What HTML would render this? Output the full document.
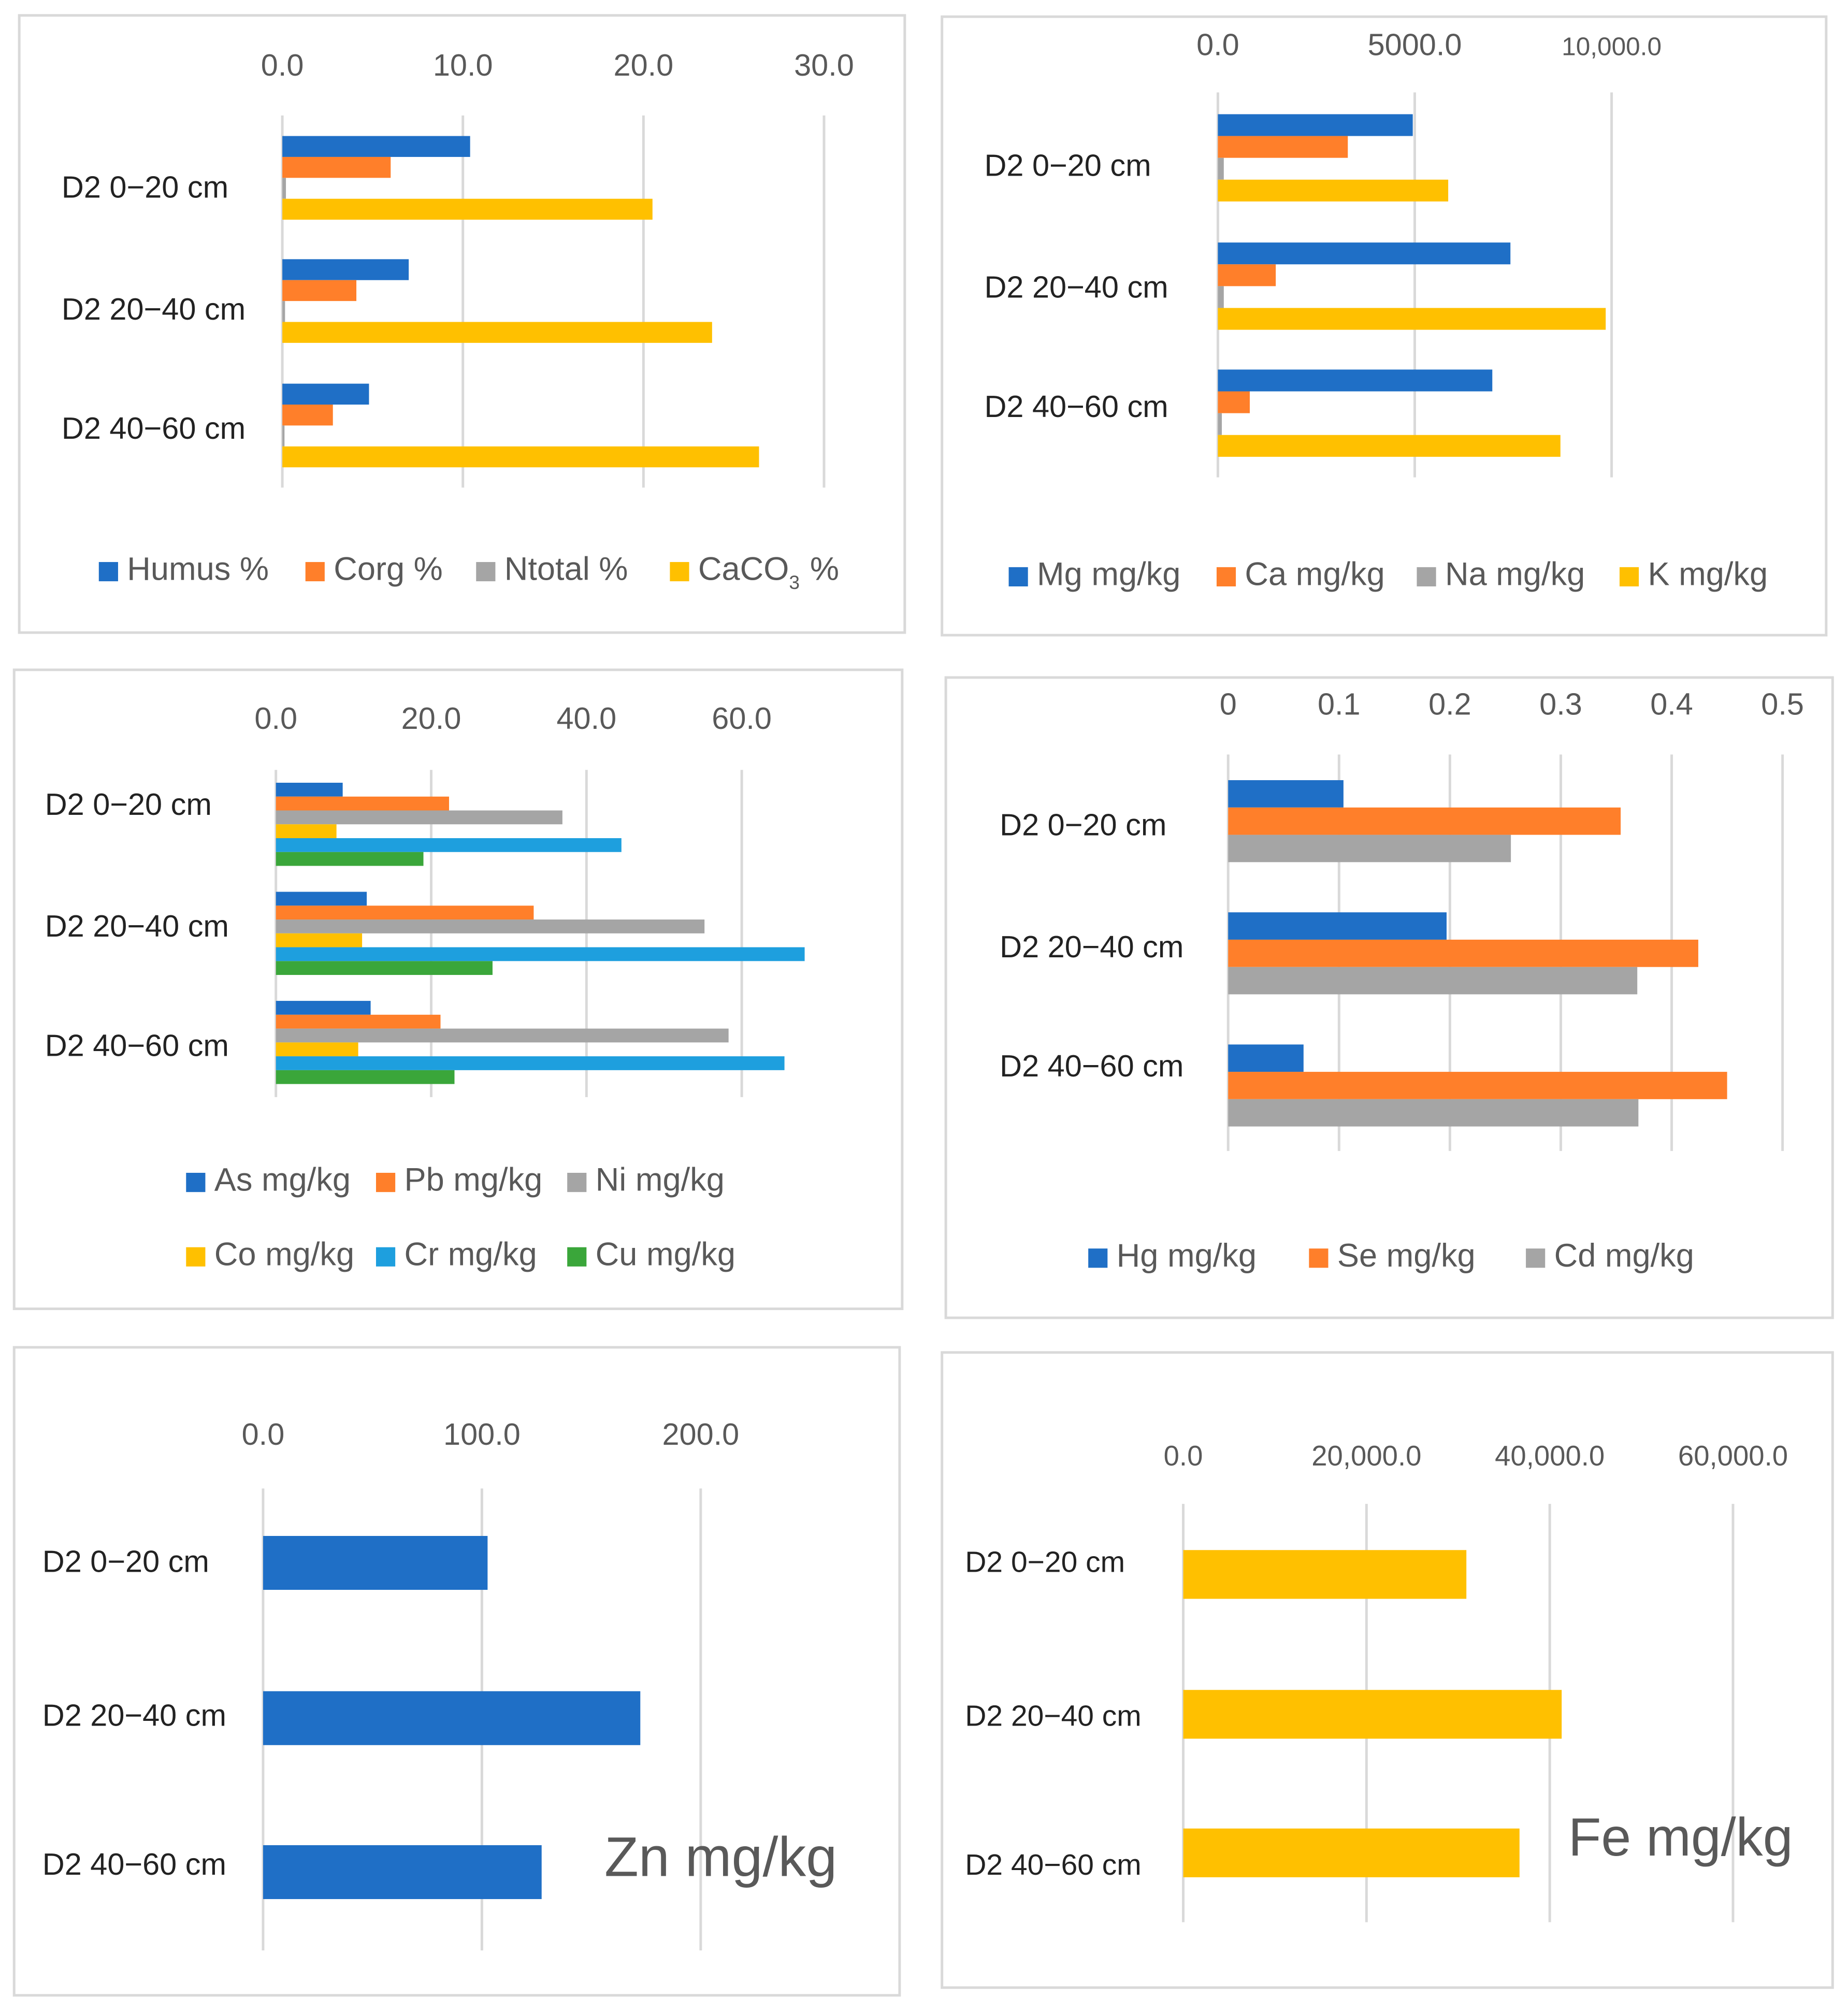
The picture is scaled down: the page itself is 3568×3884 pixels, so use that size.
<!DOCTYPE html>
<html><head><meta charset="utf-8"><style>
html,body{margin:0;padding:0;background:#fff;}
svg{display:block;}
text{font-family:"Liberation Sans",sans-serif;}
</style></head><body>
<svg id="root" width="3568" height="3884" viewBox="0 0 1440 1568" preserveAspectRatio="none"></svg>
<script>
const categories = ['D2 0\u221220 cm','D2 20\u221240 cm','D2 40\u221260 cm'];

// Chart 1
const c1Series = ['Humus %','Corg %','Ntotal %','CaCO3 %'];
const c1Ticks = [0,10,20,30];
const c1TickLabels = ['0.0','10.0','20.0','30.0'];
const c1Humus = [10.4,7.0,4.8];
const c1Corg = [6.0,4.1,2.8];
const c1Ntotal = [0.2,0.15,0.12];
const c1CaCO3 = [20.5,23.8,26.4];

// Chart 2
const c2Series = ['Mg mg/kg','Ca mg/kg','Na mg/kg','K mg/kg'];
const c2Ticks = [0,5000,10000];
const c2TickLabels = ['0.0','5000.0','10,000.0'];
const c2Mg = [4950,7430,6970];
const c2Ca = [3300,1470,810];
const c2Na = [150,150,100];
const c2K = [5850,9850,8700];

// Chart 3
const c3Series = ['As mg/kg','Pb mg/kg','Ni mg/kg','Co mg/kg','Cr mg/kg','Cu mg/kg'];
const c3Ticks = [0,20,40,60];
const c3TickLabels = ['0.0','20.0','40.0','60.0'];
const c3As = [8.6,11.7,12.2];
const c3Pb = [22.3,33.2,21.2];
const c3Ni = [36.9,55.2,58.3];
const c3Co = [7.8,11.1,10.6];
const c3Cr = [44.5,68.1,65.5];
const c3Cu = [19.0,27.9,23.0];

// Chart 4
const c4Series = ['Hg mg/kg','Se mg/kg','Cd mg/kg'];
const c4Ticks = [0,0.1,0.2,0.3,0.4,0.5];
const c4TickLabels = ['0','0.1','0.2','0.3','0.4','0.5'];
const c4Hg = [0.104,0.197,0.068];
const c4Se = [0.354,0.424,0.450];
const c4Cd = [0.255,0.369,0.370];

// Chart 5
const c5Ticks = [0,100,200];
const c5TickLabels = ['0.0','100.0','200.0'];
const c5Zn = [102.6,172.4,127.3];

// Chart 6
const c6Ticks = [0,20000,40000,60000];
const c6TickLabels = ['0.0','20,000.0','40,000.0','60,000.0'];
const c6Fe = [30900,41300,36700];

const BLUE='#1f6fc6', ORANGE='#ff7f2a', GRAY='#a5a5a5', YELLOW='#ffc000', LBLUE='#1e9fde', GREEN='#3aa63a';
const NS='http://www.w3.org/2000/svg';
const root=document.getElementById('root');
function mk(tag,attrs,parent){const e=document.createElementNS(NS,tag);for(const k in attrs)e.setAttribute(k,attrs[k]);(parent||root).appendChild(e);return e;}

function drawChart(cfg){
  const g=mk('g',{});
  
  
  const box=mk('rect',{x:cfg.box[0],y:cfg.box[1],width:cfg.box[2]-cfg.box[0],height:cfg.box[3]-cfg.box[1],fill:'#fff',stroke:'#d9d9d9','stroke-width':2},g);
  
  
  const xs=v=>cfg.x0+v*cfg.k;
  cfg.ticks.forEach((t,i)=>{
    const ln=mk('line',{x1:xs(t),x2:xs(t),y1:cfg.gridTop,y2:cfg.gridBottom,stroke:'#d9d9d9','stroke-width':2},g);
    
    
    const tx=mk('text',{x:xs(t),y:cfg.tickY,'text-anchor':'middle','font-size':cfg.tickSize||24,fill:'#595959'},g);
    tx.textContent=cfg.tickLabels[i];
    if(cfg.serifLast&&i===cfg.ticks.length-1){tx.setAttribute('font-family','"Liberation Serif",serif');tx.setAttribute('font-size',20);}
    
    
  });
  categories.forEach((c,ci)=>{
    const t=mk('text',{x:cfg.labelX,y:cfg.labelYs[ci],'font-size':cfg.catSize||24,fill:'#222'},g);
    t.textContent=c;
    
    
    cfg.series.forEach((s,si)=>{
      const v=s.values[ci];
      const r=mk('rect',{x:xs(0),y:cfg.groupTops[ci]+si*cfg.barH,width:Math.max(0.8,xs(v)-xs(0)),height:cfg.barH,fill:s.color},g);
      
      
    });
  });
  (cfg.legend||[]).forEach(L=>{
    const sq=mk('rect',{x:L.x,y:L.y-14,width:15,height:15,fill:L.color},g);
    
    
    const t=mk('text',{x:L.x+22,y:L.y,'font-size':25.5,fill:'#595959'},g);
    if(L.label==='CaCO3 %'){
      t.appendChild(document.createTextNode('CaCO'));
      const sub=mk('tspan',{dy:7,'font-size':15},t);sub.textContent='3';
      const rest=mk('tspan',{dy:-7,dx:8},t);rest.textContent='%';
    } else t.textContent=L.label;
    
    
  });
  if(cfg.bigTitle){
    const t=mk('text',{x:cfg.bigTitle.x,y:cfg.bigTitle.y,'font-size':cfg.bigTitle.size,fill:'#595959'},g);
    t.textContent=cfg.bigTitle.text;
    
    
  }
}

drawChart({name:'chart-humus-corg',box:[15,12,705,493],x0:220,k:14.07,ticks:c1Ticks,tickLabels:c1TickLabels,tickY:59,gridTop:90,gridBottom:380,
  labelX:48,labelYs:[154,249,342],groupTops:[106,202,299],barH:16.3,
  series:[{values:c1Humus,color:BLUE},{values:c1Corg,color:ORANGE},{values:c1Ntotal,color:GRAY},{values:c1CaCO3,color:YELLOW}],
  legend:[{x:77,y:452,color:BLUE,label:c1Series[0]},{x:238,y:452,color:ORANGE,label:c1Series[1]},{x:371,y:452,color:GRAY,label:c1Series[2]},{x:522,y:452,color:YELLOW,label:c1Series[3]}]});

drawChart({name:'chart-mg-ca-na-k',box:[734,13,1423,495],x0:949,k:0.03068,ticks:c2Ticks,tickLabels:c2TickLabels,tickY:43,gridTop:72,gridBottom:372,serifLast:true,
  labelX:767,labelYs:[137,232,325],groupTops:[89,189,288],barH:17,
  series:[{values:c2Mg,color:BLUE},{values:c2Ca,color:ORANGE},{values:c2Na,color:GRAY},{values:c2K,color:YELLOW}],
  legend:[{x:786,y:456,color:BLUE,label:c2Series[0]},{x:948,y:456,color:ORANGE,label:c2Series[1]},{x:1104,y:456,color:GRAY,label:c2Series[2]},{x:1262,y:456,color:YELLOW,label:c2Series[3]}]});

drawChart({name:'chart-heavy-metals',box:[11,522,703,1020],x0:215,k:6.05,ticks:c3Ticks,tickLabels:c3TickLabels,tickY:568,gridTop:600,gridBottom:855,
  labelX:35,labelYs:[635,730,823],groupTops:[610,695,780],barH:10.8,
  series:[{values:c3As,color:BLUE},{values:c3Pb,color:ORANGE},{values:c3Ni,color:GRAY},{values:c3Co,color:YELLOW},{values:c3Cr,color:LBLUE},{values:c3Cu,color:GREEN}],
  legend:[{x:145,y:928,color:BLUE,label:c3Series[0]},{x:293,y:928,color:ORANGE,label:c3Series[1]},{x:442,y:928,color:GRAY,label:c3Series[2]},
          {x:145,y:986,color:YELLOW,label:c3Series[3]},{x:293,y:986,color:LBLUE,label:c3Series[4]},{x:442,y:986,color:GREEN,label:c3Series[5]}]});

drawChart({name:'chart-hg-se-cd',box:[737,528,1428,1027],x0:957,k:864,ticks:c4Ticks,tickLabels:c4TickLabels,tickY:557,gridTop:588,gridBottom:897,
  labelX:779,labelYs:[651,746,839],groupTops:[608,711,814],barH:21.3,
  series:[{values:c4Hg,color:BLUE},{values:c4Se,color:ORANGE},{values:c4Cd,color:GRAY}],
  legend:[{x:848,y:987,color:BLUE,label:c4Series[0]},{x:1020,y:987,color:ORANGE,label:c4Series[1]},{x:1189,y:987,color:GRAY,label:c4Series[2]}]});

drawChart({name:'chart-zn',box:[11,1050,701,1555],x0:205,k:1.705,ticks:c5Ticks,tickLabels:c5TickLabels,tickY:1126,gridTop:1160,gridBottom:1520,
  labelX:33,labelYs:[1225,1345,1461],groupTops:[1197,1318,1438],barH:42,
  series:[{values:c5Zn,color:BLUE}],bigTitle:{x:471,y:1462,text:'Zn mg/kg',size:43.5}});

drawChart({name:'chart-fe',box:[734,1054,1428,1549],x0:922,k:0.00714,ticks:c6Ticks,tickLabels:c6TickLabels,tickY:1142,tickSize:22,gridTop:1172,gridBottom:1498,
  labelX:752,labelYs:[1225,1345,1461],groupTops:[1208,1317,1425],barH:38,catSize:23,
  series:[{values:c6Fe,color:YELLOW}],bigTitle:{x:1222,y:1446,text:'Fe mg/kg',size:42}});
</script>
</body></html>
